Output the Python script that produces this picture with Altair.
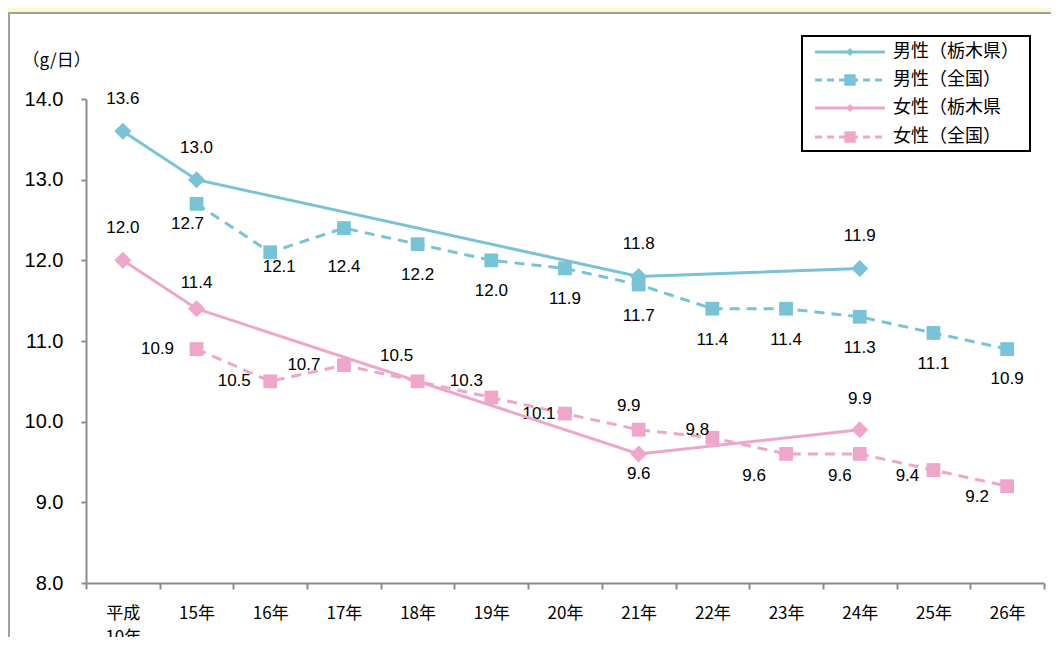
import altair as alt
import pandas as pd

# ---------------- data ----------------
categories = ["平成 10年", "15年", "16年", "17年", "18年", "19年", "20年",
              "21年", "22年", "23年", "24年", "25年", "26年"]

male_tochigi_years = ["平成 10年", "15年", "21年", "24年"]
male_tochigi_vals = [13.6, 13.0, 11.8, 11.9]

male_national_years = ["15年", "16年", "17年", "18年", "19年", "20年",
                       "21年", "22年", "23年", "24年", "25年", "26年"]
male_national_vals = [12.7, 12.1, 12.4, 12.2, 12.0, 11.9, 11.7, 11.4, 11.4, 11.3, 11.1, 10.9]

female_tochigi_years = ["平成 10年", "15年", "21年", "24年"]
female_tochigi_vals = [12.0, 11.4, 9.6, 9.9]

female_national_years = male_national_years
female_national_vals = [10.9, 10.5, 10.7, 10.5, 10.3, 10.1, 9.9, 9.8, 9.6, 9.6, 9.4, 9.2]

series_names = ["男性（栃木県）", "男性（全国）", "女性（栃木県", "女性（全国）"]

# label placement (pixel offsets from each point)
mT_dx = [0, 0, 0, 0]
mT_dy = [-32, -32, -32, -32]
mN_dx = [-9, 9, 0, 0, 0, 0, 0, 0, 0, 0, 0, 0]
mN_dy = [20, 15, 39, 31, 31, 31, 31, 31, 31, 31, 31, 30]
fT_dx = [0, 0, 0, 0]
fT_dy = [-32, -26, 20, -31]
fN_dx = [-39, -36, -40, -21, -25, -26, -10, -15, -32, -20, -26, -30]
fN_dy = [0, 0, 0, -25, -16, 0, -24, -8, 22, 22, 6, 11]

BLUE = "#78C3D6"
PINK = "#EFA6CB"
DASH = [10, 7]

# ---------------- encodings ----------------
x_enc = alt.X(
    "year:N",
    sort=categories,
    bandPosition=0.5,
    scale=alt.Scale(type="band", domain=categories, paddingInner=0, paddingOuter=0),
    axis=alt.Axis(
        title=None, tickBand="extent", labelAngle=0,
        labelExpr="split(datum.label, ' ')",
        labelFont="Noto Sans CJK JP", labelFontSize=17, labelColor="black",
        labelLineHeight=24, labelPadding=16, labelBaseline="top",
        domainColor="#8c8c8c", domainWidth=2, tickColor="#8c8c8c", tickWidth=2,
        tickSize=6, grid=False, zindex=1,
    ),
)

y_enc = alt.Y(
    "value:Q",
    scale=alt.Scale(domain=[8, 14], nice=False, zero=False),
    axis=alt.Axis(
        values=[8, 9, 10, 11, 12, 13, 14], format=".1f",
        title="（g/日）", titleAngle=0, titleX=-64, titleY=-39,
        titleAlign="left", titleBaseline="middle", titleFontSize=17,
        titleFontWeight="normal", titleFont="Noto Sans CJK JP", titleColor="black",
        labelFont="Liberation Sans", labelFontSize=20, labelColor="black",
        labelPadding=18, domainColor="#8c8c8c", domainWidth=2,
        tickColor="#8c8c8c", tickWidth=2, tickSize=5, grid=False, zindex=1,
    ),
)


def frame(years, vals, dx, dy):
    return pd.DataFrame({"year": years, "value": vals, "dx": dx, "dy": dy})


def series_layers(df, color, dashed, shape, size):
    base = alt.Chart(df)
    line_kwargs = dict(color=color, strokeWidth=3)
    if dashed:
        line_kwargs["strokeDash"] = DASH
    line = base.mark_line(**line_kwargs).encode(x=x_enc, y=y_enc)
    pts = base.mark_point(shape=shape, filled=True, opacity=1, color=color, size=size).encode(x=x_enc, y=y_enc)
    txt = base.mark_text(font="Liberation Sans", fontSize=17, color="black",
                         align="center", baseline="middle",
                         dx=alt.expr("datum.dx"), dy=alt.expr("datum.dy")).encode(
        x=x_enc, y=y_enc,
        text=alt.Text("value:Q", format=".1f"),
    )
    return [line, pts, txt]


mT = frame(male_tochigi_years, male_tochigi_vals, mT_dx, mT_dy)
mN = frame(male_national_years, male_national_vals, mN_dx, mN_dy)
fT = frame(female_tochigi_years, female_tochigi_vals, fT_dx, fT_dy)
fN = frame(female_national_years, female_national_vals, fN_dx, fN_dy)

one = pd.DataFrame({"k": [0]})

panel = alt.Chart(one).mark_rect(fill="white", stroke="#a0a0a0", strokeWidth=2).encode(
    x=alt.value(-77), x2=alt.value(1000), y=alt.value(-86), y2=alt.value(600)
)

layers = [panel]
layers += series_layers(mN, BLUE, True, "square", 190)
layers += series_layers(mT, BLUE, False, "diamond", 290)
layers += series_layers(fN, PINK, True, "square", 190)
layers += series_layers(fT, PINK, False, "diamond", 290)

# ---------------- legend ----------------
legend_box = alt.Chart(one).mark_rect(fill="white", stroke="black", strokeWidth=2).encode(
    x=alt.value(716), x2=alt.value(944), y=alt.value(-63), y2=alt.value(52)
)
layers.append(legend_box)

legend_styles = [
    (BLUE, False, "diamond", 64),
    (BLUE, True, "square", 130),
    (PINK, False, "diamond", 64),
    (PINK, True, "square", 130),
]
row_y = [-47, -19, 9, 38]
for name, (color, dashed, shape, size), ry in zip(series_names, legend_styles, row_y):
    ld = pd.DataFrame({"name": [name]})
    rk = dict(color=color, strokeWidth=3)
    if dashed:
        rk["strokeDash"] = [7, 5]
    layers.append(alt.Chart(ld).mark_rule(**rk).encode(
        x=alt.value(729), x2=alt.value(799), y=alt.value(ry)))
    layers.append(alt.Chart(ld).mark_point(shape=shape, filled=True, opacity=1,
                                           color=color, size=size).encode(
        x=alt.value(764), y=alt.value(ry)))
    layers.append(alt.Chart(ld).mark_text(font="Noto Sans CJK JP", fontSize=18, color="black",
                                          align="left", baseline="middle").encode(
        x=alt.value(807), y=alt.value(ry), text="name:N"))

chart = alt.layer(*layers).properties(
    width=958, height=484,
    autosize=alt.AutoSizeParams(type="none"),
    padding={"left": 78, "top": 91, "right": 7, "bottom": 54},
).configure(background="#FFF8CC").configure_view(stroke=None)

chart.save("out.html", embed_options={"renderer": "svg", "actions": False})
